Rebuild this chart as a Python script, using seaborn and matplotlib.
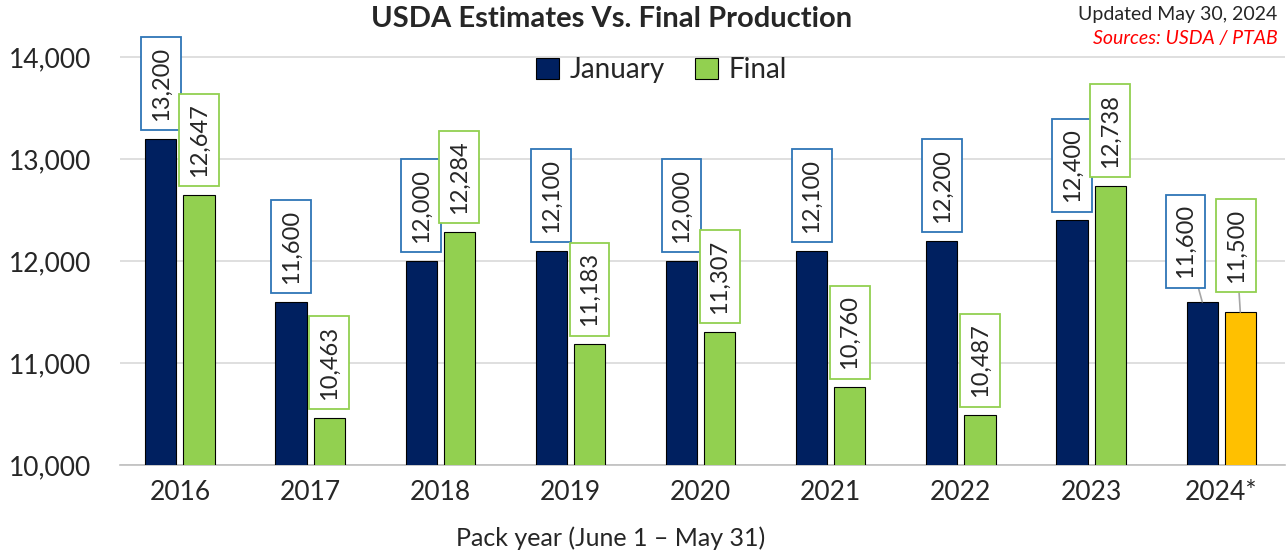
import pandas as pd
import numpy as np
import matplotlib.pyplot as plt
import seaborn as sns

# Chart data
years = ['2016', '2017', '2018', '2019', '2020', '2021', '2022', '2023', '2024*']
january = [13200, 11600, 12000, 12100, 12000, 12100, 12200, 12400, 11600]
final = [12647, 10463, 12284, 11183, 11307, 10760, 10487, 12738, 11500]
series = ['January', 'Final']

df = pd.DataFrame({
    'year': years * 2,
    'value': january + final,
    'series': ['January'] * len(years) + ['Final'] * len(years),
})

navy = '#002060'
green = '#92D050'
gold = '#FFC000'
box_blue = '#2E75B6'

sns.set_style('white')
plt.rcParams['font.family'] = ['Lato', 'DejaVu Sans']

fig = plt.figure(figsize=(12.88, 5.54), dpi=100)
ax = fig.add_axes([0.0932, 0.1606, 0.9045, 0.7734])

sns.barplot(data=df, x='year', y='value', hue='series', hue_order=series,
            palette=[navy, green], saturation=1, width=0.585, gap=0.18, dodge=True,
            edgecolor='black', linewidth=0.8, ax=ax, legend=True, zorder=3)

# 2024 final estimate shown in gold
ax.containers[1].patches[-1].set_facecolor(gold)

ax.set_ylim(10000, 14200)
ax.set_xlim(-0.46, 8.49)
ax.set_yticks([10000, 11000, 12000, 13000, 14000])
ax.yaxis.set_major_formatter(plt.FuncFormatter(lambda v, p: f'{v:,.0f}'))
ax.tick_params(axis='y', labelsize=19, length=0, pad=21)
ax.tick_params(axis='x', labelsize=19, length=0, pad=11)
ax.grid(axis='y', color='#D9D9D9', linewidth=1.2, zorder=0)
ax.set_axisbelow(True)
for s in ['top', 'right', 'left']:
    ax.spines[s].set_visible(False)
ax.spines['bottom'].set_color('#BFBFBF')
ax.spines['bottom'].set_linewidth(1.2)
ax.set_xlabel('')
ax.set_ylabel('')

# Data labels
for cont, edge in zip(ax.containers, [box_blue, green]):
    for i, bar in enumerate(cont.patches):
        h = bar.get_height()
        xc = bar.get_x() + bar.get_width() / 2
        bbox = dict(boxstyle='square,pad=0.4', facecolor='white', edgecolor=edge, linewidth=1.3)
        if i == len(cont.patches) - 1:
            dx = -12 if edge == box_blue else -3
            dy = 17 if edge == box_blue else 21
            ax.annotate(f'{h:,.0f}', xy=(xc, h), xytext=(dx, dy), textcoords='offset points',
                        rotation=90, ha='center', va='bottom', fontsize=17, bbox=bbox,
                        annotation_clip=False, zorder=5,
                        arrowprops=dict(arrowstyle='-', color='#A6A6A6', lw=1.2, shrinkA=0, shrinkB=0))
        else:
            ax.annotate(f'{h:,.0f}', xy=(xc, h), xytext=(0, 13), textcoords='offset points',
                        rotation=90, ha='center', va='bottom', fontsize=17, bbox=bbox,
                        annotation_clip=False, zorder=5)

leg = ax.legend(loc='upper center', bbox_to_anchor=(0.465, 1.01), ncol=2, frameon=False,
                fontsize=20, handlelength=0.8, handleheight=0.8, columnspacing=1.1,
                handletextpad=0.4)

fig.text(0.4745, 0.965, 'USDA Estimates Vs. Final Production', ha='center', va='center',
         fontsize=21, fontweight='bold')
fig.text(0.992, 0.974, 'Updated May 30, 2024', ha='right', va='center', fontsize=14)
fig.text(0.992, 0.93, 'Sources: USDA / PTAB', ha='right', va='center', fontsize=14,
         color='red', style='italic')
fig.text(0.474, 0.028, 'Pack year (June 1 \u2013 May 31)', ha='center', va='center', fontsize=18)

fig.savefig('out.png', dpi=100)
